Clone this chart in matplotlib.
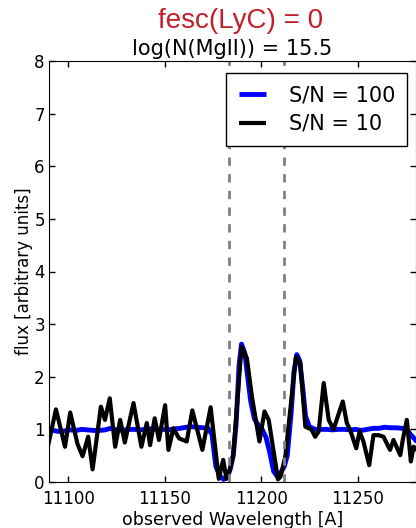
import numpy as np
import matplotlib
matplotlib.use('Agg')
import matplotlib.pyplot as plt

#------------------------#----------------------------#-----------------------#
# datos

wl_sn100 = [11089, 11092, 11095, 11098, 11101, 11104, 11107, 11110, 11113, 11116,
            11119, 11122, 11125, 11128, 11131, 11134, 11137, 11140, 11143, 11146,
            11149, 11152, 11155, 11158, 11161, 11164, 11167, 11170, 11172.5, 11174.5,
            11176.5, 11178.5, 11180.5, 11182.5, 11184, 11185.5, 11187, 11188.5, 11189.8, 11191.5,
            11193, 11194.5, 11196.5, 11198.5, 11200.5, 11202.5, 11204.5, 11206.5, 11208.5, 11210.5,
            11212, 11213.5, 11215.5, 11217, 11218.5, 11220, 11221.5, 11223, 11225, 11228,
            11231, 11234, 11237, 11240, 11243, 11246, 11249, 11252, 11255, 11258,
            11261, 11264, 11267, 11270, 11273, 11275.5, 11277.5, 11280]
flux_sn100 = [1.00, 0.98, 0.96, 0.97, 0.99, 0.98, 1.00, 0.99, 0.98, 0.98,
              0.99, 1.02, 0.99, 0.98, 1.00, 1.00, 0.99, 1.00, 1.01, 1.00,
              1.00, 0.99, 1.01, 1.02, 1.04, 1.05, 1.04, 1.03, 1.02, 0.90,
              0.30, 0.12, 0.05, 0.10, 0.25, 0.50, 1.10, 2.20, 2.62, 2.45,
              2.00, 1.55, 1.20, 1.08, 1.00, 0.85, 0.55, 0.20, 0.10, 0.20,
              0.30, 0.50, 1.30, 2.10, 2.42, 2.30, 1.80, 1.25, 1.05, 1.00,
              1.00, 1.00, 0.99, 1.00, 1.00, 0.99, 1.00, 0.98, 1.00, 1.02,
              1.02, 1.04, 1.03, 1.03, 1.02, 1.00, 0.90, 0.80]

wl_sn10 = [11089, 11093.6, 11098.3, 11101.0, 11104.8, 11107.4, 11110.3, 11112.6, 11116.9, 11119.0,
           11121.5, 11124.3, 11126.9, 11129.3, 11133.8, 11137.9, 11140.7, 11142.4, 11144.8, 11147.0,
           11150.2, 11151.9, 11154.5, 11157.4, 11161.4, 11164.3, 11169.5, 11173.8, 11178.0, 11180.3,
           11182.0, 11183.5, 11185.5, 11189.8, 11192.6, 11195.2, 11199.1, 11201.7, 11203.9, 11208.7,
           11210.0, 11212.5, 11218.0, 11220.3, 11222.9, 11226.0, 11228.0, 11229.8, 11232.4, 11235.0,
           11237.5, 11242.3, 11244.4, 11246.1, 11249.3, 11251.0, 11253.0, 11256.0, 11258.2, 11260.8,
           11263.4, 11266.8, 11268.6, 11272.1, 11273.4, 11275.5, 11277.6, 11279.0, 11281.0]
flux_sn10 = [0.60, 1.38, 0.67, 1.32, 0.72, 0.49, 0.86, 0.24, 1.43, 1.18,
             1.59, 0.67, 1.18, 0.75, 1.50, 0.67, 1.12, 0.70, 1.21, 0.80,
             1.46, 0.61, 1.02, 0.83, 0.77, 1.36, 0.61, 1.42, 0.06, 0.42,
             0.06, 0.20, 0.50, 2.57, 2.35, 1.62, 0.77, 1.34, 1.18, 0.05,
             0.10, 0.48, 2.38, 2.26, 1.05, 1.00, 0.86, 0.96, 1.88, 1.18,
             1.00, 1.53, 1.12, 0.99, 0.64, 0.96, 0.77, 0.32, 0.89, 0.89,
             0.86, 0.61, 0.80, 0.51, 0.80, 1.18, 0.39, 0.67, 0.60]

lineas_mgii = [11183.5, 11211.6]

#------------------------#----------------------------#-----------------------#

fig = plt.figure(figsize=(4.16, 5.28), dpi=100)
ax = fig.add_axes([49/416., 46/528., 366.5/416., 421/528.])

ax.plot(wl_sn100, flux_sn100, color='#0000ff', lw=3.5, label='S/N = 100')
ax.plot(wl_sn10, flux_sn10, color='k', lw=3, label='S/N = 10')
for l in lineas_mgii:
    ax.axvline(l, color='#808080', lw=2, linestyle=(0, (3, 3)))

ax.set_xlim(11090, 11280)
ax.set_ylim(0, 8)
ax.set_xticks([11100, 11150, 11200, 11250])
ax.set_yticks(np.arange(0, 9, 1))
ax.tick_params(direction='in', top=True, right=True, length=4, width=1, labelsize=12)
ax.tick_params(axis='x', pad=6)
ax.tick_params(axis='y', pad=3)

ax.set_xlabel('observed Wavelength [A]', fontsize=12.5, labelpad=2)
ax.set_ylabel('flux [arbitrary units]', fontsize=12, labelpad=1)
ax.set_title('log(N(MgII)) = 15.5', fontsize=15, pad=4)

fig.text(241/416., 1 - 28/528., 'fesc(LyC) = 0', ha='center', va='baseline',
         fontsize=20, color='#c41e2a', family='Liberation Sans')

leg = ax.legend(loc='upper right', bbox_to_anchor=(0.978, 0.9715), borderaxespad=0,
                fontsize=15, fancybox=False, framealpha=1, edgecolor='k',
                handlelength=1.3, handletextpad=1.1, borderpad=0.6, labelspacing=0.4)
leg.get_frame().set_linewidth(1)
for h in leg.get_lines():
    h.set_solid_capstyle('butt')

plt.savefig('out.png', dpi=100)
